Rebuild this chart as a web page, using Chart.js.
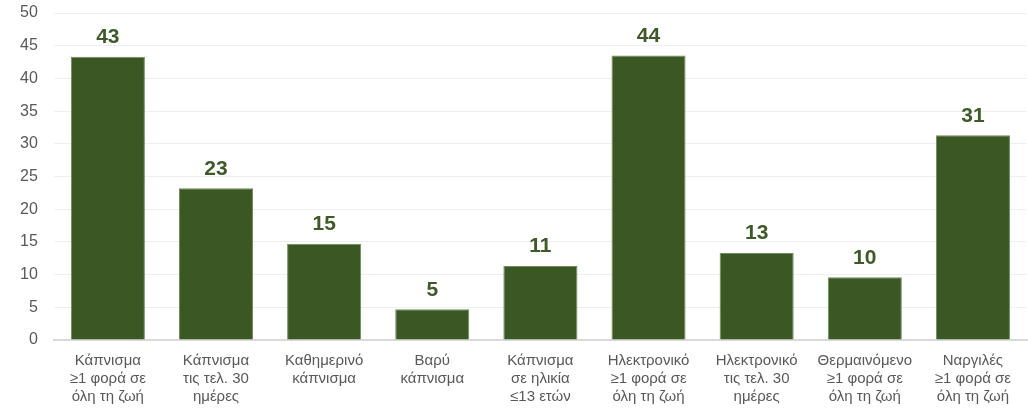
<!DOCTYPE html>
<html>
<head>
<meta charset="utf-8">
<script src="https://cdn.jsdelivr.net/npm/chart.js@4"></script>
<style>
  html, body { margin: 0; padding: 0; background: #fff; }
  #wrap { position: relative; width: 1028px; height: 410px; }
</style>
</head>
<body>
<div id="wrap"><canvas id="chart"></canvas></div>
<script>
// Κατηγορίες (γραμμές ετικέτας)
const categories = [
    ['Κάπνισμα', '≥1 φορά σε', 'όλη τη ζωή'],
    ['Κάπνισμα', 'τις τελ. 30', 'ημέρες'],
    ['Καθημερινό', 'κάπνισμα'],
    ['Βαρύ', 'κάπνισμα'],
    ['Κάπνισμα', 'σε ηλικία', '≤13 ετών'],
    ['Ηλεκτρονικό', '≥1 φορά σε', 'όλη τη ζωή'],
    ['Ηλεκτρονικό', 'τις τελ. 30', 'ημέρες'],
    ['Θερμαινόμενο', '≥1 φορά σε', 'όλη τη ζωή'],
    ['Ναργιλές', '≥1 φορά σε', 'όλη τη ζωή']
];

// Ποσοστά (%)
const values = [43.3, 23.2, 14.7, 4.7, 11.3, 43.5, 13.3, 9.6, 31.3];

// Άξονας y
const yMax = 50;
const yStep = 5;

// Ετικέτες τιμών πάνω από τις μπάρες
const valueLabels = {
    id: 'valueLabels',
    afterDatasetsDraw(chart) {
        const ctx = chart.ctx;
        const meta = chart.getDatasetMeta(0);
        ctx.save();
        ctx.font = 'bold 21px "Liberation Sans", Arial, sans-serif';
        ctx.fillStyle = '#3e5a28';
        ctx.textAlign = 'center';
        ctx.textBaseline = 'bottom';
        meta.data.forEach((bar, i) => {
            ctx.fillText(Math.round(values[i]), bar.x, bar.y - 9);
        });
        ctx.restore();
    }
};

const ctx = document.getElementById('chart').getContext('2d');
new Chart(ctx, {
    type: 'bar',
    data: {
        labels: categories,
        datasets: [{
            data: values,
            backgroundColor: '#3b5724',
            borderColor: '#6f8c5c',
            borderWidth: 1,
            barPercentage: 0.685,
            categoryPercentage: 1
        }]
    },
    options: {
        responsive: true,
        maintainAspectRatio: false,
        animation: false,
        layout: {
            padding: { top: 13, left: 20, right: 1, bottom: 0 }
        },
        plugins: {
            legend: { display: false },
            tooltip: { enabled: false }
        },
        scales: {
            x: {
                grid: { display: false, drawTicks: false },
                border: { color: '#d9d9d9', width: 2 },
                ticks: {
                    color: '#595959',
                    padding: 12,
                    maxRotation: 0,
                    autoSkip: false,
                    font: { family: '"Liberation Sans", Arial, sans-serif', size: 15, lineHeight: 1.2 }
                },
                afterFit(scale) {
                    scale.height = 70;
                }
            },
            y: {
                min: 0,
                max: yMax,
                grid: { color: '#efefef', drawTicks: true, tickLength: 16, tickColor: 'rgba(0,0,0,0)' },
                border: { display: false },
                ticks: {
                    stepSize: yStep,
                    color: '#595959',
                    padding: 0,
                    font: { family: '"Liberation Sans", Arial, sans-serif', size: 16 }
                }
            }
        }
    },
    plugins: [valueLabels]
});
</script>
</body>
</html>
